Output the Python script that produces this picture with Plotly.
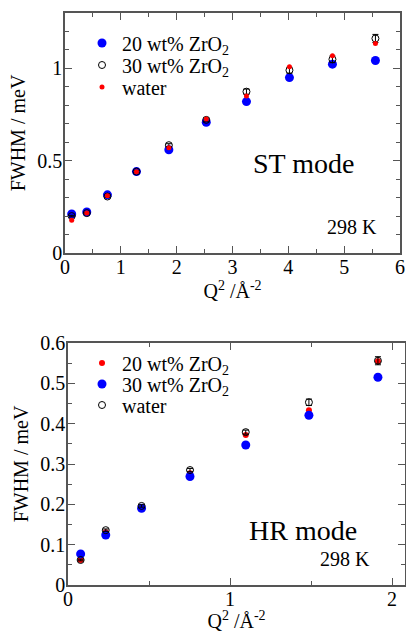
import plotly.graph_objects as go

# ---- ST mode (top panel) ----
st_q2 = [0.12, 0.39, 0.76, 1.28, 1.86, 2.53, 3.25, 4.02, 4.79, 5.56]
st_20wt = [0.211, 0.222, 0.315, 0.441, 0.559, 0.708, 0.820, 0.950, 1.023, 1.043]
st_30wt = [0.200, 0.216, 0.306, 0.441, 0.584, 0.721, 0.874, 0.990, 1.049, 1.162]
st_30wt_err = [0.004, 0.004, 0.005, 0.006, 0.008, 0.010, 0.014, 0.016, 0.018, 0.022]
st_water = [0.177, 0.216, 0.310, 0.440, 0.570, 0.726, 0.850, 1.009, 1.068, 1.135]

# ---- HR mode (bottom panel) ----
hr_q2 = [0.078, 0.233, 0.454, 0.753, 1.097, 1.487, 1.913]
hr_20wt = [0.062, 0.131, 0.193, 0.277, 0.372, 0.433, 0.555]
hr_30wt = [0.077, 0.124, 0.190, 0.269, 0.347, 0.421, 0.515]
hr_water = [0.062, 0.136, 0.196, 0.285, 0.379, 0.453, 0.556]
hr_water_err = [0.002, 0.003, 0.003, 0.004, 0.005, 0.008, 0.010]

FONT = "Liberation Serif, Times New Roman, serif"
BLUE = "#0000ff"
RED = "#ff0000"
AX = "#555555"

W, H = 406, 632
def px(x):
    return x / W
def py(y):
    return (H - y) / H

fig = go.Figure()

# top traces
fig.add_trace(go.Scatter(x=st_q2, y=st_20wt, mode="markers", name="20 wt% ZrO<sub>2</sub>",
                         marker=dict(color=BLUE, size=9), xaxis="x", yaxis="y", legend="legend"))
fig.add_trace(go.Scatter(x=st_q2, y=st_30wt, mode="markers", name="30 wt% ZrO<sub>2</sub>",
                         marker=dict(symbol="circle-open", color="black", size=7, line=dict(width=1)),
                         error_y=dict(type="data", array=st_30wt_err, color="black", thickness=1, width=3),
                         xaxis="x", yaxis="y", legend="legend2"))
fig.add_trace(go.Scatter(x=st_q2, y=st_water, mode="markers", name="water",
                         marker=dict(color=RED, size=5), xaxis="x", yaxis="y", legend="legend3"))

# bottom traces
fig.add_trace(go.Scatter(x=hr_q2, y=hr_20wt, mode="markers", name="20 wt% ZrO<sub>2</sub>",
                         marker=dict(color=RED, size=6), xaxis="x2", yaxis="y2", legend="legend4"))
fig.add_trace(go.Scatter(x=hr_q2, y=hr_30wt, mode="markers", name="30 wt% ZrO<sub>2</sub>",
                         marker=dict(color=BLUE, size=9), xaxis="x2", yaxis="y2", legend="legend5"))
fig.add_trace(go.Scatter(x=hr_q2, y=hr_water, mode="markers", name="water",
                         marker=dict(symbol="circle-open", color="black", size=7, line=dict(width=1)),
                         error_y=dict(type="data", array=hr_water_err, color="black", thickness=1, width=3),
                         xaxis="x2", yaxis="y2", legend="legend6"))

axis_common = dict(showline=True, linecolor=AX, linewidth=1.5, mirror="ticks",
                   ticks="inside", ticklen=7, tickwidth=1.2, tickcolor=AX,
                   showgrid=False, zeroline=False, automargin=False,
                   tickfont=dict(family=FONT, size=20, color="black"))

def leg(xp, yp):
    return dict(x=px(xp), y=py(yp), xanchor="left", yanchor="middle", bgcolor="rgba(0,0,0,0)",
                font=dict(family=FONT, size=20, color="black"), itemsizing="trace",
                borderwidth=0, visible=True)

def note(text, xp, yp, size):
    return dict(text=text, x=px(xp), y=py(yp), xref="paper", yref="paper", showarrow=False,
                xanchor="center", yanchor="middle",
                font=dict(family=FONT, size=size, color="black"))

fig.update_layout(
    width=W, height=H,
    showlegend=True,
    margin=dict(l=0, r=0, t=0, b=0),
    paper_bgcolor="white", plot_bgcolor="white",
    font=dict(family=FONT, color="black"),
    xaxis=dict(domain=[px(65), px(400)], range=[0, 6], dtick=1, anchor="y", ticklabelstandoff=-5,
               minor=dict(dtick=0.5, ticks="inside", ticklen=4, tickcolor=AX, tickwidth=1.2),
               title=dict(text="Q<sup>2</sup> /Å<sup>-2</sup>", font=dict(family=FONT, size=20), standoff=0),
               **axis_common),
    yaxis=dict(domain=[py(253), py(13)], range=[0, 1.3], dtick=0.5, anchor="x", ticklabelstandoff=-3,
               minor=dict(dtick=0.1, ticks="inside", ticklen=4, tickcolor=AX, tickwidth=1.2),
               title=dict(text="FWHM / meV", font=dict(family=FONT, size=20), standoff=6),
               **axis_common),
    xaxis2=dict(domain=[px(68), px(405)], range=[0, 2.08], dtick=1, anchor="y2", ticklabelstandoff=-5,
                minor=dict(dtick=0.5, ticks="inside", ticklen=4, tickcolor=AX, tickwidth=1.2),
                title=dict(text="Q<sup>2</sup> /Å<sup>-2</sup>", font=dict(family=FONT, size=20), standoff=4),
                **axis_common),
    yaxis2=dict(domain=[py(585), py(343)], range=[0, 0.6], dtick=0.1, anchor="x2", ticklabelstandoff=-3,
                minor=dict(dtick=0.05, ticks="inside", ticklen=4, tickcolor=AX, tickwidth=1.2),
                title=dict(text="FWHM / meV", font=dict(family=FONT, size=20), standoff=6),
                **axis_common),
    legend=leg(82, 43),
    legend2=leg(82, 65),
    legend3=leg(82, 87),
    legend4=leg(82, 363),
    legend5=leg(82, 384),
    legend6=leg(82, 405),
    annotations=[
        note("ST mode", 303, 163, 28),
        note("298 K", 352, 227, 20),
        note("HR mode", 303, 530, 28),
        note("298 K", 345, 559, 20),
    ],
)

fig.write_html("out.html", config={"displayModeBar": False},
               post_script="document.body.style.margin='0';")
